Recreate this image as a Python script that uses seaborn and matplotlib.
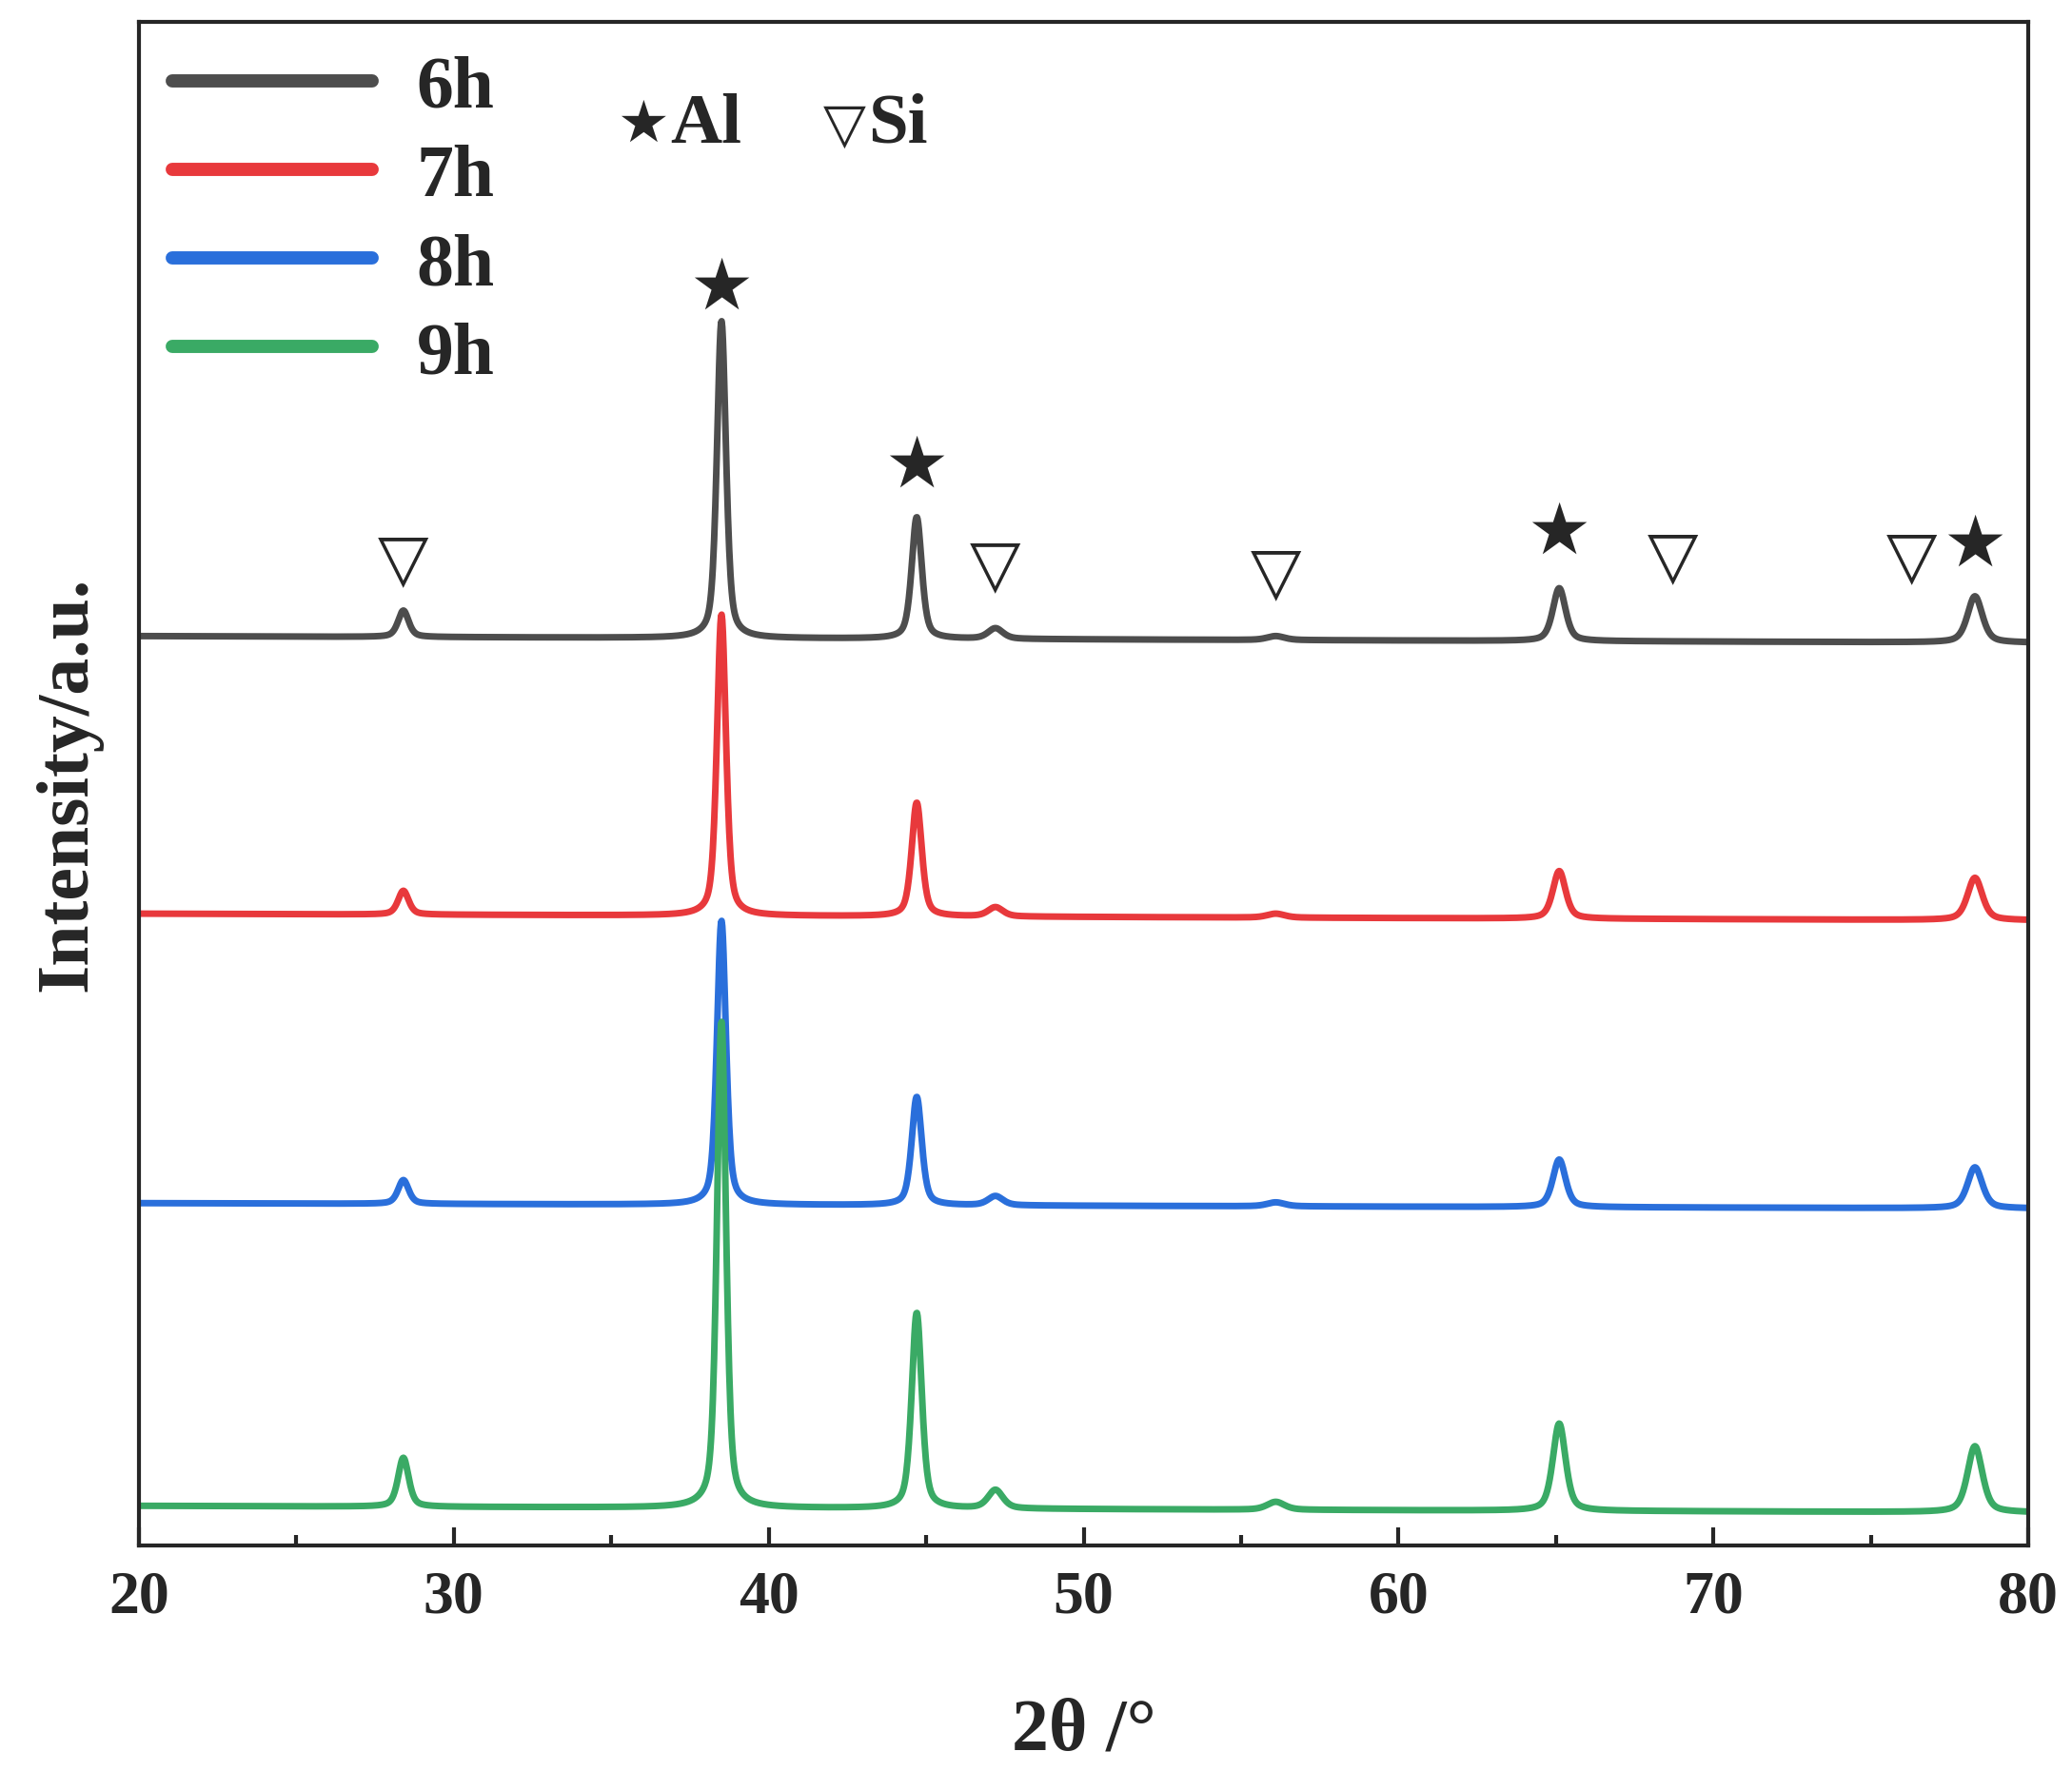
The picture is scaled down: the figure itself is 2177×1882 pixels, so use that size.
import numpy as np
import pandas as pd
import seaborn as sns
import matplotlib.pyplot as plt

# -------------------------------
# Data (intensity in arbitrary offset units)
# -------------------------------
series = ["6h", "7h", "8h", "9h"]
colors = ["#4d4d4d", "#e8393c", "#2a6fdb", "#3aaa65"]
baselines = [688, 478, 259, 30]
baseline_drop = [-5, -5, -4, -5]          # change of baseline from 20 to 80 deg

peak_pos = [28.4, 38.5, 44.7, 47.2, 56.1, 65.1, 78.3]
peak_width = [0.20, 0.17, 0.19, 0.28, 0.33, 0.24, 0.28]
peak_height = {
    "6h": [20, 240, 92, 8, 3, 40, 35],
    "7h": [18, 228, 86, 7, 3, 36, 32],
    "8h": [18, 215, 82, 7, 3, 36, 31],
    "9h": [37, 368, 148, 14, 6, 66, 50],
}

al_marks_x = [38.5, 44.7, 65.1, 78.3]
al_marks_y = [925, 790, 740, 730]
si_marks_x = [28.4, 47.2, 56.1, 68.7, 76.3]
si_marks_y = [722, 718, 712, 724, 724]

# -------------------------------
# Build long table
# -------------------------------
x = np.linspace(20, 80, 3000)
rows = []
for name, base, drop in zip(series, baselines, baseline_drop):
    y = base + drop * (x - 20) / 60
    for p, w, h in zip(peak_pos, peak_width, peak_height[name]):
        lor = 1 / (1 + ((x - p) / w) ** 2)
        gau = np.exp(-np.log(2) * ((x - p) / w) ** 2)
        y = y + h * (0.5 * lor + 0.5 * gau)
    rows.append(pd.DataFrame({"two_theta": x, "intensity": y, "time": name}))
df = pd.concat(rows)

# -------------------------------
# Plot
# -------------------------------
sns.set_style("ticks")
plt.rcParams["font.family"] = ["Liberation Serif", "DejaVu Serif"]
plt.rcParams["font.weight"] = "bold"

fig = plt.figure(figsize=(21.77, 18.83), dpi=100)
ax = fig.add_axes([0.067, 0.137, 0.912, 0.8505])
sns.lineplot(data=df, x="two_theta", y="intensity", hue="time",
             palette=colors, linewidth=5, ax=ax)

for xm, ym in zip(al_marks_x, al_marks_y):
    ax.text(xm, ym, "★", ha="center", va="bottom", fontsize=54,
            family=["DejaVu Sans"])
for xm, ym in zip(si_marks_x, si_marks_y):
    ax.text(xm, ym, "▽", ha="center", va="bottom", fontsize=50,
            family=["DejaVu Sans"])
ax.text(36.0, 1075, "★", ha="center", va="center", fontsize=44, family=["DejaVu Sans"])
ax.text(38.0, 1075, "Al", ha="center", va="center", fontsize=54, fontweight="bold")
ax.text(42.4, 1075, "▽", ha="center", va="center", fontsize=42, family=["DejaVu Sans"])
ax.text(44.1, 1075, "Si", ha="center", va="center", fontsize=54, fontweight="bold")

ax.set_xlim(20, 80)
ax.set_ylim(0, 1153)
ax.set_xticks(range(20, 81, 10))
ax.set_xticks(range(25, 80, 10), minor=True)
ax.set_yticks([])
ax.tick_params(axis="x", which="major", direction="in", length=14, width=3,
               labelsize=46, pad=18)
ax.tick_params(axis="x", which="minor", direction="in", length=8, width=3)
for lbl in ax.get_xticklabels():
    lbl.set_fontweight("bold")
for s in ax.spines.values():
    s.set_linewidth(3)

ax.set_xlabel("2θ /°", fontsize=56, fontweight="bold", labelpad=55)
ax.set_ylabel("Intensity/a.u.", fontsize=56, fontweight="bold", labelpad=28)

leg = ax.legend(loc="upper left", frameon=False, fontsize=56, handlelength=2.7,
                labelspacing=0.28, borderaxespad=0.15, borderpad=0.3,
                handletextpad=0.6)
for line in leg.get_lines():
    line.set_linewidth(10)
for t in leg.get_texts():
    t.set_fontweight("bold")

fig.savefig("out.png", dpi=100)
